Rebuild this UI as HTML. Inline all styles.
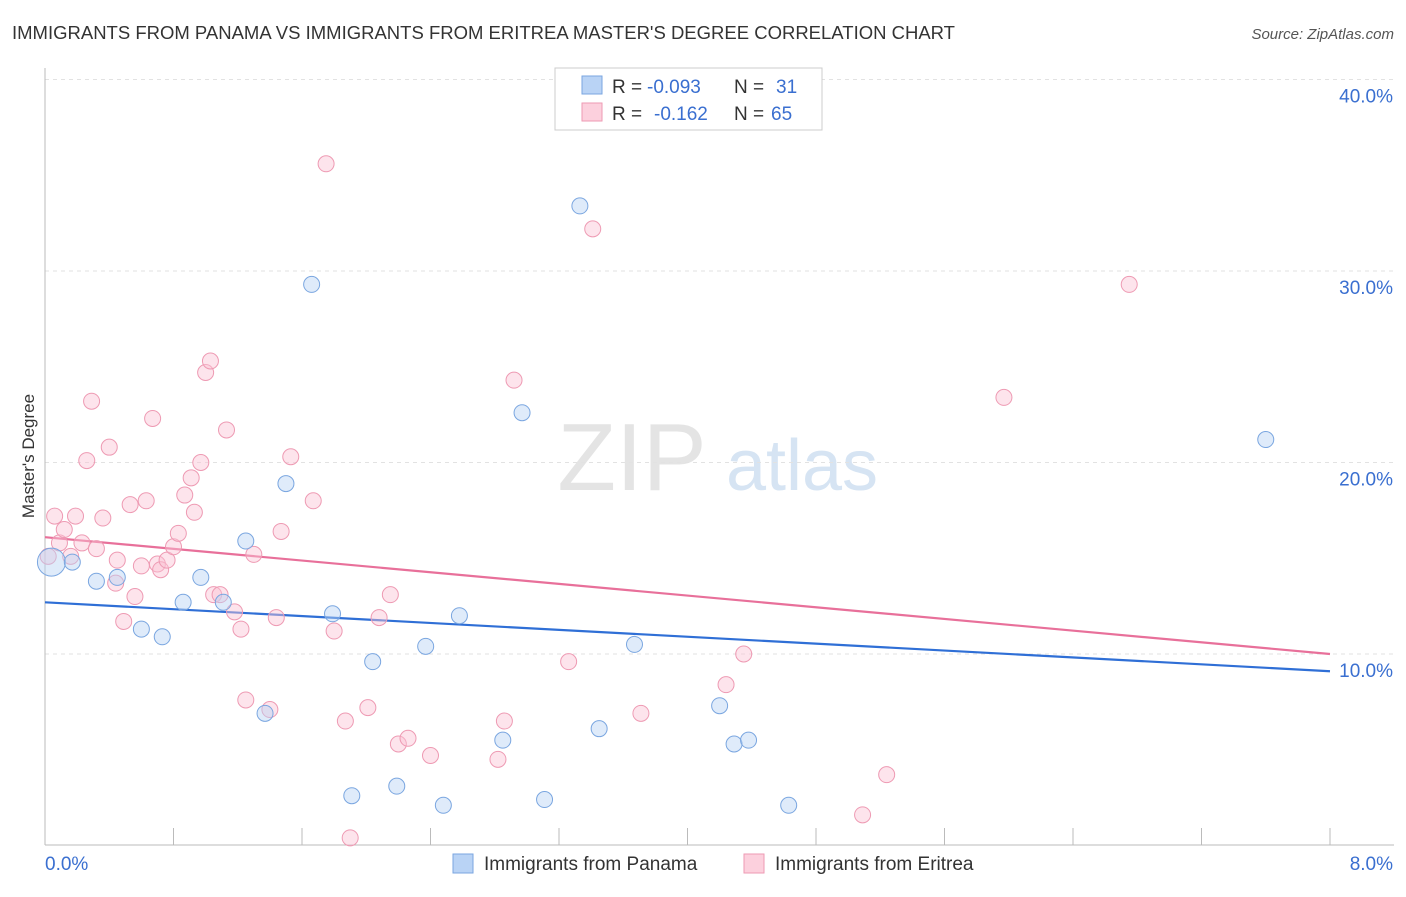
<!DOCTYPE html>
<html><head><meta charset="utf-8"><style>
body{margin:0;background:#fff;font-family:"Liberation Sans",sans-serif;}
svg text{font-family:"Liberation Sans",sans-serif;}
</style></head><body>
<svg id="chart" width="1406" height="892">
<text x="12" y="39" font-size="18" fill="#333" textLength="943" lengthAdjust="spacingAndGlyphs">IMMIGRANTS FROM PANAMA VS IMMIGRANTS FROM ERITREA MASTER'S DEGREE CORRELATION CHART</text>
<text x="1394" y="39" font-size="15" fill="#555" font-style="italic" text-anchor="end">Source: ZipAtlas.com</text>
<text x="34" y="456" font-size="17" fill="#333" text-anchor="middle" transform="rotate(-90 34 456)">Master's Degree</text>
<g>
<text x="632" y="490" font-size="96" fill="#e4e4e4" font-family="Liberation Serif" text-anchor="middle">ZIP</text>
<text x="802" y="490" font-size="72" fill="#d6e4f3" text-anchor="middle">atlas</text>
</g>
<g id="grid"></g><g id="axes"></g><g id="lines"></g><g id="pts"></g>
<g>
<rect x="555" y="68" width="267" height="62" fill="#fff" stroke="#ccc"/>
<rect x="582" y="76" width="20" height="18" fill="#b9d3f5" stroke="#7aa6e0"/>
<rect x="582" y="103" width="20" height="18" fill="#fcd0dd" stroke="#ee9ab3"/>
<text x="612" y="93" font-size="19" fill="#333">R =</text>
<text x="647" y="93" font-size="19" fill="#3a6fd0">-0.093</text>
<text x="734" y="93" font-size="19" fill="#333">N =</text>
<text x="776" y="93" font-size="19" fill="#3a6fd0">31</text>
<text x="612" y="120" font-size="19" fill="#333">R =</text>
<text x="654" y="120" font-size="19" fill="#3a6fd0">-0.162</text>
<text x="734" y="120" font-size="19" fill="#333">N =</text>
<text x="771" y="120" font-size="19" fill="#3a6fd0">65</text>
</g>
<g>
<rect x="453" y="854" width="20" height="19" fill="#b9d3f5" stroke="#7aa6e0"/>
<text x="484" y="870" font-size="19" fill="#333">Immigrants from Panama</text>
<rect x="744" y="854" width="20" height="19" fill="#fcd0dd" stroke="#ee9ab3"/>
<text x="775" y="870" font-size="19" fill="#333">Immigrants from Eritrea</text>
</g>
</svg>
<script>
const yTicks=[10,20,30,40];
const xLabels=["0.0%","8.0%"];
const panamaX=[0.04,0.17,0.32,0.45,0.60,0.73,0.86,0.97,1.11,1.25,1.37,1.50,1.66,1.79,1.91,2.04,2.19,2.37,2.48,2.58,2.85,2.97,3.11,3.33,3.45,3.67,4.20,4.29,4.38,4.63,7.60];
const panamaY=[14.8,14.8,13.8,14.0,11.3,10.9,12.7,14.0,12.7,15.9,6.9,18.9,29.3,12.1,2.6,9.6,3.1,10.4,2.1,12.0,5.5,22.6,2.4,33.4,6.1,10.5,7.3,5.3,5.5,2.1,21.2];
const eritreaX=[0.02,0.06,0.09,0.12,0.16,0.19,0.23,0.26,0.29,0.32,0.36,0.40,0.44,0.45,0.49,0.53,0.56,0.60,0.63,0.67,0.70,0.72,0.76,0.80,0.83,0.87,0.91,0.93,0.97,1.00,1.03,1.05,1.09,1.13,1.18,1.22,1.25,1.30,1.40,1.44,1.47,1.53,1.67,1.75,1.80,1.87,1.90,2.01,2.08,2.15,2.20,2.26,2.40,2.82,2.86,2.92,3.26,3.41,3.71,4.24,4.35,5.09,5.24,5.97,6.75];
const eritreaY=[15.1,17.2,15.8,16.5,15.1,17.2,15.8,20.1,23.2,15.5,17.1,20.8,13.7,14.9,11.7,17.8,13.0,14.6,18.0,22.3,14.7,14.4,14.9,15.6,16.3,18.3,19.2,17.4,20.0,24.7,25.3,13.1,13.1,21.7,12.2,11.3,7.6,15.2,7.1,11.9,16.4,20.3,18.0,35.6,11.2,6.5,0.4,7.2,11.9,13.1,5.3,5.6,4.7,4.5,6.5,24.3,9.6,32.2,6.9,8.4,10.0,1.6,3.7,23.4,29.3];
const panamaTrend=[12.7,9.1];
const eritreaTrend=[16.1,10.0];
const ns="http://www.w3.org/2000/svg";
function X(v){return 45+v/8*1285;}
function Y(v){return 845.5-v*19.15;}
function mk(t,a,p){const e=document.createElementNS(ns,t);for(const k in a)e.setAttribute(k,a[k]);p.appendChild(e);return e;}
const grid=document.getElementById('grid'),axes=document.getElementById('axes'),lines=document.getElementById('lines'),pts=document.getElementById('pts');
yTicks.forEach(t=>{
 const l=mk('line',{x1:45,x2:1394,y1:Y(t),y2:Y(t),stroke:'#e2e2e2','stroke-dasharray':'4,4'},grid);
 
 
 const tx=mk('text',{x:1393,y:Y(t)+23,'font-size':19,fill:'#3a6fd0','text-anchor':'end'},axes);
 tx.textContent=t.toFixed(1)+'%';
 
 
});
const ax=mk('line',{x1:45,x2:1394,y1:845,y2:845,stroke:'#bbb'},axes);


const ay=mk('line',{x1:45,x2:45,y1:68,y2:845,stroke:'#bbb'},axes);


for(let i=0;i<=10;i++){const tk=mk('line',{x1:X(i*0.8),x2:X(i*0.8),y1:828,y2:845,stroke:'#bbb'},axes);
 
 }
[[0,'start',45],[8,'end',1393]].forEach((d,i)=>{const t=mk('text',{x:d[2],y:870,'font-size':19,fill:'#3a6fd0','text-anchor':d[1]},axes);t.textContent=xLabels[i];
 
 });
function pts_(xs,ys,fill,stroke,name){xs.forEach((x,i)=>{const c=mk('circle',{cx:X(x),cy:Y(ys[i]),r:(name==='panama-point'&&i===0)?14:8,fill:fill,stroke:stroke,'stroke-width':1,'fill-opacity':0.45},pts);
 
 });}
pts_(eritreaX,eritreaY,'#fbc4d4','#ee9ab3','eritrea-point');
pts_(panamaX,panamaY,'#b9d3f5','#7aa6e0','panama-point');
const l1=mk('line',{x1:X(0),x2:X(8),y1:Y(panamaTrend[0]),y2:Y(panamaTrend[1]),stroke:'#2f6fd6','stroke-width':2.2},lines);


const l2=mk('line',{x1:X(0),x2:X(8),y1:Y(eritreaTrend[0]),y2:Y(eritreaTrend[1]),stroke:'#e8709a','stroke-width':2.2},lines);


</script>
</body></html>
